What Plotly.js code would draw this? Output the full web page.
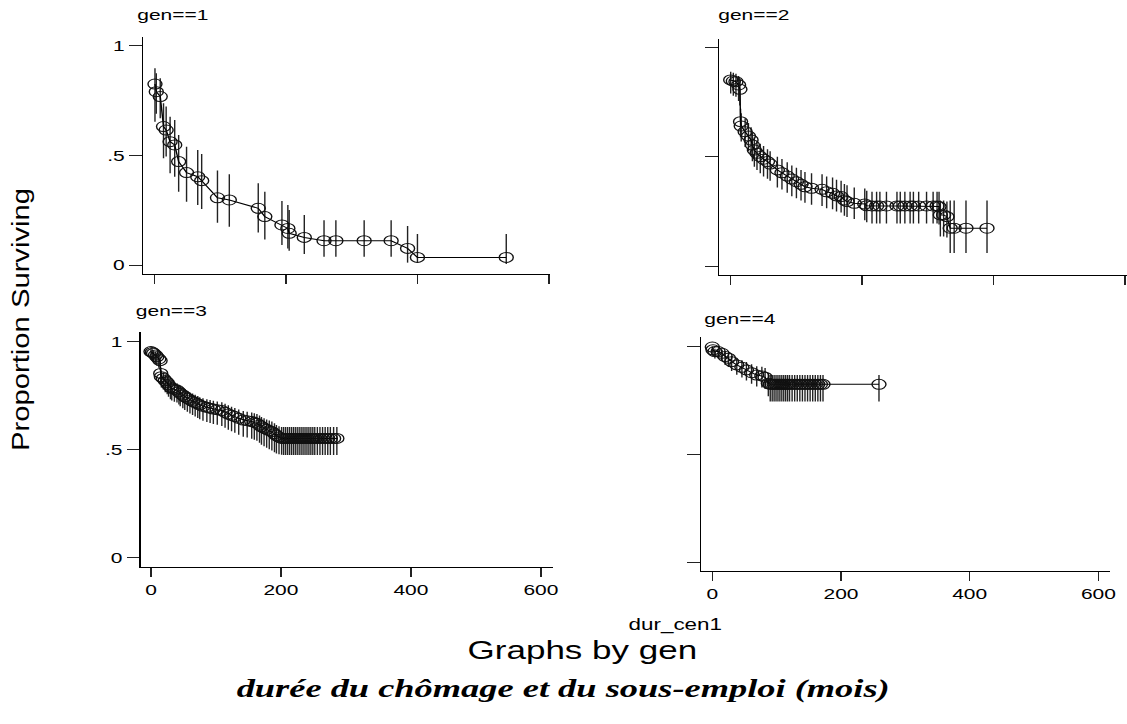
<!DOCTYPE html>
<html>
<head>
<meta charset="utf-8">
<script src="https://cdn.plot.ly/plotly-3.0.1.min.js"></script>
<style>
html,body{margin:0;padding:0;background:#fff;overflow:hidden;}
#wrap{width:1127px;height:724px;overflow:hidden;background:#fff;}
#chart{width:805px;height:724px;transform:scaleX(1.4);transform-origin:0 0;}
</style>
</head>
<body>
<div id="wrap"><div id="chart"></div></div>
<script>
// ---------- DATA ----------
const panelTitles = ['gen==1', 'gen==2', 'gen==3', 'gen==4'];
const xTickVals = [0, 200, 400, 600];
const xTickText = ['0', '200', '400', '600'];
const yTickVals = [0, 0.5, 1];
const yTickText = ['0', '.5', '1'];

const gen1_dur  = [1, 3, 9, 14, 18, 24, 31, 37, 49, 66, 72, 96, 114, 158, 168, 194, 203, 205, 228, 258, 276, 319, 360, 385, 400, 535];
const gen1_surv = [0.826, 0.791, 0.769, 0.632, 0.616, 0.563, 0.548, 0.472, 0.422, 0.403, 0.385, 0.307, 0.297, 0.259, 0.221, 0.183, 0.167, 0.145, 0.126, 0.111, 0.111, 0.111, 0.111, 0.076, 0.035, 0.035];
const gen1_ub   = [0.898, 0.875, 0.852, 0.738, 0.723, 0.677, 0.662, 0.594, 0.540, 0.525, 0.507, 0.431, 0.414, 0.373, 0.335, 0.292, 0.274, 0.251, 0.228, 0.205, 0.205, 0.205, 0.205, 0.178, 0.142, 0.142];
const gen1_lb   = [0.654, 0.690, 0.670, 0.487, 0.495, 0.419, 0.403, 0.335, 0.289, 0.274, 0.256, 0.193, 0.175, 0.148, 0.117, 0.091, 0.076, 0.065, 0.050, 0.038, 0.038, 0.038, 0.038, 0.011, 0.011, 0.005];

const gen2_dur  = [0, 4, 8, 12, 14, 15, 16, 22, 27, 31, 33, 36, 40, 45, 50, 56, 60, 71, 78, 86, 93, 100, 107, 113, 123, 139, 146, 155, 161, 168, 173, 177, 188, 204, 207, 215, 222, 227, 237, 253, 258, 265, 273, 278, 286, 298, 308, 314, 317, 319, 324, 329, 334, 340, 358, 390];
const gen2_surv = [0.852, 0.847, 0.844, 0.829, 0.809, 0.661, 0.641, 0.615, 0.595, 0.577, 0.554, 0.531, 0.516, 0.501, 0.489, 0.478, 0.467, 0.440, 0.427, 0.412, 0.398, 0.386, 0.374, 0.363, 0.356, 0.351, 0.340, 0.333, 0.321, 0.318, 0.302, 0.295, 0.287, 0.284, 0.276, 0.275, 0.275, 0.275, 0.275, 0.275, 0.275, 0.275, 0.275, 0.275, 0.275, 0.275, 0.275, 0.275, 0.272, 0.234, 0.234, 0.226, 0.173, 0.173, 0.173, 0.173];
const gen2_ub   = [0.890, 0.885, 0.880, 0.870, 0.855, 0.720, 0.700, 0.675, 0.655, 0.635, 0.610, 0.590, 0.575, 0.560, 0.550, 0.535, 0.525, 0.500, 0.490, 0.475, 0.460, 0.450, 0.440, 0.430, 0.425, 0.420, 0.410, 0.405, 0.395, 0.390, 0.375, 0.370, 0.360, 0.355, 0.345, 0.340, 0.340, 0.340, 0.340, 0.340, 0.340, 0.340, 0.340, 0.340, 0.340, 0.340, 0.340, 0.340, 0.340, 0.300, 0.300, 0.295, 0.300, 0.300, 0.300, 0.300];
const gen2_lb   = [0.790, 0.780, 0.775, 0.755, 0.735, 0.590, 0.570, 0.545, 0.525, 0.505, 0.480, 0.455, 0.440, 0.425, 0.410, 0.400, 0.390, 0.360, 0.350, 0.335, 0.320, 0.310, 0.300, 0.290, 0.280, 0.275, 0.265, 0.260, 0.250, 0.245, 0.230, 0.225, 0.215, 0.210, 0.200, 0.195, 0.195, 0.195, 0.195, 0.195, 0.195, 0.195, 0.195, 0.195, 0.195, 0.195, 0.195, 0.195, 0.190, 0.135, 0.135, 0.130, 0.060, 0.060, 0.060, 0.060];

const gen3_dur  = [0, 2, 4, 7, 9, 12, 14, 15, 16, 19, 22, 25, 27, 30, 32, 36, 40, 43, 45, 49, 52, 56, 60, 64, 68, 72, 75, 80, 86, 91, 96, 102, 109, 114, 119, 124, 129, 135, 142, 148, 155, 159, 163, 167, 170, 174, 178, 182, 186, 190, 193, 197, 201, 204, 207, 210, 213, 216, 219, 222, 225, 228, 231, 234, 237, 240, 243, 246, 249, 252, 256, 260, 264, 268, 272, 276, 281, 286];
const gen3_surv = [0.954, 0.950, 0.946, 0.938, 0.930, 0.920, 0.912, 0.853, 0.838, 0.830, 0.819, 0.810, 0.800, 0.790, 0.784, 0.780, 0.776, 0.768, 0.761, 0.753, 0.745, 0.738, 0.730, 0.724, 0.718, 0.712, 0.707, 0.701, 0.696, 0.692, 0.688, 0.685, 0.681, 0.673, 0.665, 0.659, 0.653, 0.645, 0.637, 0.634, 0.630, 0.626, 0.622, 0.614, 0.606, 0.600, 0.594, 0.588, 0.583, 0.574, 0.565, 0.558, 0.552, 0.552, 0.552, 0.552, 0.552, 0.552, 0.552, 0.552, 0.552, 0.552, 0.552, 0.552, 0.552, 0.552, 0.552, 0.552, 0.552, 0.552, 0.552, 0.552, 0.552, 0.552, 0.552, 0.552, 0.552, 0.552];
const gen3_ub   = [0.968, 0.965, 0.960, 0.953, 0.946, 0.937, 0.930, 0.880, 0.866, 0.858, 0.848, 0.840, 0.830, 0.820, 0.815, 0.811, 0.808, 0.800, 0.794, 0.786, 0.779, 0.772, 0.765, 0.760, 0.754, 0.748, 0.743, 0.738, 0.733, 0.730, 0.726, 0.723, 0.720, 0.712, 0.705, 0.699, 0.693, 0.686, 0.679, 0.676, 0.672, 0.669, 0.665, 0.658, 0.651, 0.645, 0.640, 0.635, 0.630, 0.622, 0.614, 0.608, 0.605, 0.605, 0.605, 0.605, 0.605, 0.605, 0.605, 0.605, 0.605, 0.605, 0.605, 0.605, 0.605, 0.605, 0.605, 0.605, 0.605, 0.605, 0.605, 0.605, 0.605, 0.605, 0.605, 0.605, 0.605, 0.605];
const gen3_lb   = [0.918, 0.913, 0.908, 0.899, 0.890, 0.879, 0.870, 0.805, 0.788, 0.778, 0.766, 0.756, 0.745, 0.733, 0.727, 0.722, 0.718, 0.709, 0.701, 0.692, 0.684, 0.676, 0.667, 0.660, 0.653, 0.646, 0.641, 0.634, 0.628, 0.623, 0.619, 0.615, 0.610, 0.601, 0.592, 0.585, 0.578, 0.569, 0.560, 0.556, 0.551, 0.546, 0.541, 0.532, 0.523, 0.516, 0.509, 0.502, 0.496, 0.488, 0.482, 0.479, 0.476, 0.475, 0.475, 0.475, 0.475, 0.475, 0.475, 0.475, 0.475, 0.475, 0.475, 0.475, 0.475, 0.475, 0.475, 0.475, 0.475, 0.475, 0.475, 0.475, 0.475, 0.475, 0.475, 0.475, 0.475, 0.475];

const gen4_dur  = [0, 1, 4, 9, 15, 20, 25, 30, 38, 46, 53, 61, 69, 77, 82, 87, 90, 93, 96, 99, 102, 105, 108, 111, 114, 117, 120, 124, 128, 132, 136, 140, 144, 148, 152, 156, 160, 164, 168, 172, 259];
const gen4_surv = [0.998, 0.985, 0.977, 0.977, 0.969, 0.954, 0.946, 0.930, 0.915, 0.904, 0.892, 0.879, 0.868, 0.864, 0.858, 0.830, 0.825, 0.825, 0.825, 0.825, 0.825, 0.825, 0.825, 0.825, 0.825, 0.825, 0.825, 0.825, 0.825, 0.825, 0.825, 0.825, 0.825, 0.825, 0.825, 0.825, 0.825, 0.825, 0.825, 0.825, 0.825];
const gen4_ub   = [1.000, 0.995, 0.990, 0.990, 0.985, 0.975, 0.970, 0.958, 0.946, 0.937, 0.928, 0.918, 0.909, 0.906, 0.901, 0.878, 0.868, 0.868, 0.868, 0.868, 0.868, 0.868, 0.868, 0.868, 0.868, 0.868, 0.868, 0.868, 0.868, 0.868, 0.868, 0.868, 0.868, 0.868, 0.868, 0.868, 0.868, 0.868, 0.868, 0.868, 0.868];
const gen4_lb   = [0.975, 0.955, 0.945, 0.945, 0.935, 0.915, 0.905, 0.887, 0.870, 0.857, 0.843, 0.828, 0.815, 0.810, 0.803, 0.770, 0.745, 0.745, 0.745, 0.745, 0.745, 0.745, 0.745, 0.745, 0.745, 0.745, 0.745, 0.745, 0.745, 0.745, 0.745, 0.745, 0.745, 0.745, 0.745, 0.745, 0.745, 0.745, 0.745, 0.745, 0.745];

const yTitle = 'Proportion Surviving';
const xTitle = 'dur_cen1';
const noteText = 'Graphs by gen';
const captionText = 'durée du chômage et du sous-emploi (mois)';

// ---------- STYLE ----------
const SANS = 'Liberation Sans, Arial, Helvetica, sans-serif';
const SERIF = 'Liberation Serif, Times New Roman, serif';

function mkTrace(dur, surv, lb, ub, n) {
  const ax = n === 1 ? '' : String(n);
  return {
    type: 'scatter', mode: 'lines+markers',
    x: dur, y: surv, xaxis: 'x' + ax, yaxis: 'y' + ax,
    line: {color: '#000', width: 1},
    marker: {symbol: 'circle-open', size: 10, color: '#111', line: {width: 1, color: '#111'}},
    error_y: {
      type: 'data', symmetric: false,
      array: ub.map((u, i) => u - surv[i]),
      arrayminus: lb.map((l, i) => surv[i] - l),
      color: '#222', thickness: 1, width: 0
    },
    cliponaxis: false, hoverinfo: 'skip', showlegend: false
  };
}

const data = [
  mkTrace(gen1_dur, gen1_surv, gen1_lb, gen1_ub, 1),
  mkTrace(gen2_dur, gen2_surv, gen2_lb, gen2_ub, 2),
  mkTrace(gen3_dur, gen3_surv, gen3_lb, gen3_ub, 3),
  mkTrace(gen4_dur, gen4_surv, gen4_lb, gen4_ub, 4)
];

function xAxis(domain, range, anchor, labels) {
  return {
    domain: domain, range: range, anchor: anchor,
    showline: true, linecolor: '#000', linewidth: 1,
    ticks: 'outside', ticklen: 9, tickwidth: 1, tickcolor: '#222',
    tickvals: xTickVals, ticktext: xTickText, showticklabels: labels,
    tickfont: {family: SANS, size: 15, color: '#000'},
    showgrid: false, zeroline: false, fixedrange: true
  };
}
function yAxis(domain, range, anchor, labels) {
  return {
    domain: domain, range: range, anchor: anchor,
    showline: true, linecolor: '#000', linewidth: 1,
    ticks: 'outside', ticklen: 9, tickwidth: 1, tickcolor: '#222',
    tickvals: yTickVals, ticktext: yTickText, showticklabels: labels,
    tickfont: {family: SANS, size: 15, color: '#000'},
    ticklabelstandoff: 0,
    showgrid: false, zeroline: false, fixedrange: true
  };
}

const W = 1127, H = 724;
const layout = {
  width: 805, height: 724,
  margin: {l: 0, r: 0, t: 0, b: 0, pad: 0},
  paper_bgcolor: '#fff', plot_bgcolor: 'rgba(0,0,0,0)',
  showlegend: false,
  font: {family: SANS, color: '#000'},
  xaxis:  xAxis([143 / W, 550 / W], [-17.2, 601.5], 'y', false),
  yaxis:  yAxis([0.6215, 0.9493], [-0.041, 1.042], 'x', true),
  xaxis2: xAxis([719 / W, 1.0], [-17.8, 603], 'y2', false),
  yaxis2: yAxis([0.6202, 0.9457], [-0.041, 1.038], 'x2', false),
  xaxis3: xAxis([140.7 / W, 553.3 / W], [-15.8, 619], 'y3', true),
  yaxis3: yAxis([0.2173, 0.5418], [-0.042, 1.046], 'x3', true),
  xaxis4: xAxis([701 / W, 1110 / W], [-17.6, 618], 'y4', true),
  yaxis4: yAxis([0.2113, 0.535], [-0.040, 1.046], 'x4', false),
  annotations: [
    {text: panelTitles[0], xref: 'paper', yref: 'paper', x: 134 / W, y: 1 - 15 / H, xanchor: 'left', yanchor: 'middle', showarrow: false, font: {family: SANS, size: 15, color: '#000'}},
    {text: panelTitles[1], xref: 'paper', yref: 'paper', x: 716 / W, y: 1 - 14 / H, xanchor: 'left', yanchor: 'middle', showarrow: false, font: {family: SANS, size: 15, color: '#000'}},
    {text: panelTitles[2], xref: 'paper', yref: 'paper', x: 133 / W, y: 1 - 311 / H, xanchor: 'left', yanchor: 'middle', showarrow: false, font: {family: SANS, size: 15, color: '#000'}},
    {text: panelTitles[3], xref: 'paper', yref: 'paper', x: 701 / W, y: 1 - 318 / H, xanchor: 'left', yanchor: 'middle', showarrow: false, font: {family: SANS, size: 15, color: '#000'}},
    {text: xTitle, xref: 'paper', yref: 'paper', x: 676 / W, y: 1 - 625 / H, xanchor: 'center', yanchor: 'middle', showarrow: false, font: {family: SANS, size: 16, color: '#000'}},
    {text: noteText, xref: 'paper', yref: 'paper', x: 582 / W, y: 1 - 650 / H, xanchor: 'center', yanchor: 'middle', showarrow: false, font: {family: SANS, size: 25, color: '#000'}},
    {text: captionText, xref: 'paper', yref: 'paper', x: 563 / W, y: 1 - 688 / H, xanchor: 'center', yanchor: 'middle', showarrow: false, font: {family: SERIF, size: 26, color: '#000', weight: 'bold', style: 'italic'}},
    {text: yTitle, xref: 'paper', yref: 'paper', x: 21 / W, y: 1 - 320 / H, xanchor: 'center', yanchor: 'middle', textangle: -90, showarrow: false, font: {family: SANS, size: 17, color: '#000'}}
  ]
};

Plotly.newPlot('chart', data, layout, {staticPlot: true, displayModeBar: false}).then(function (gd) {
  // the y title of the reference is stretched along its baseline
  const t = gd.querySelector('.annotation[data-index="7"] text.annotation-text');
  if (t) {
    t.style.transformBox = 'fill-box';
    t.style.transformOrigin = 'center';
    t.style.transform = 'scaleX(1.72)';
  }
});
</script>
</body>
</html>
